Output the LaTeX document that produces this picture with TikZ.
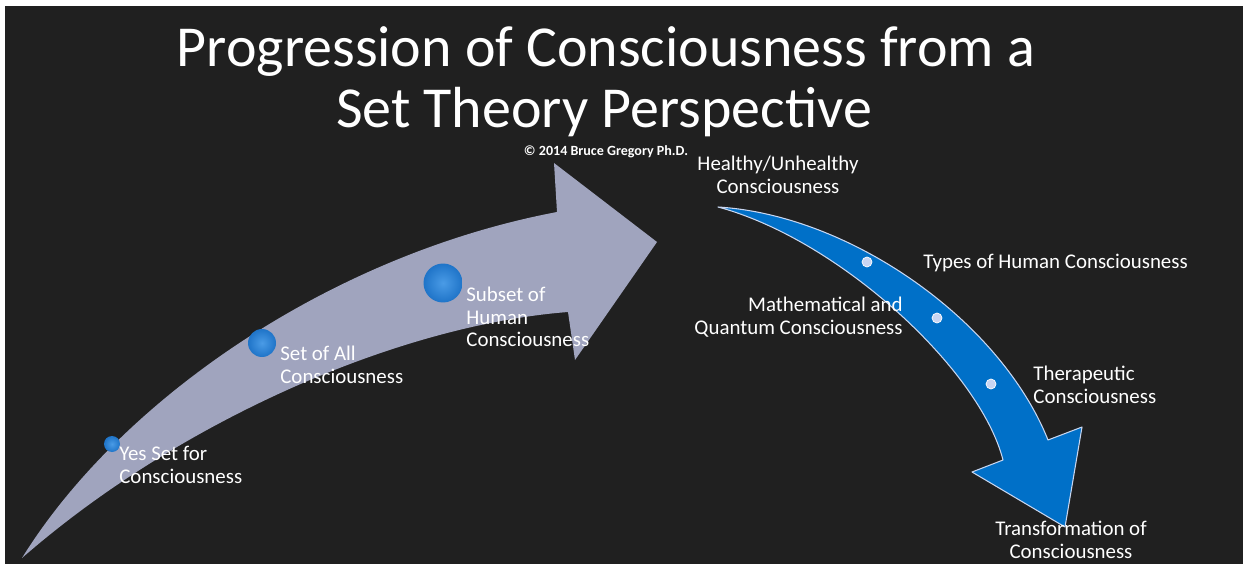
\documentclass[tikz,border=0pt]{standalone}
\usepackage{fontspec}
\setmainfont{Carlito}
\usetikzlibrary{positioning}
\definecolor{slide}{HTML}{202020}
\definecolor{lilac}{HTML}{A0A4BE}
\definecolor{bluefill}{HTML}{0070C8}
\definecolor{bluerim}{HTML}{C8D6F0}
\definecolor{pipfill}{HTML}{C9D5F2}
\definecolor{orbin}{HTML}{4A9BE6}
\definecolor{orbout}{HTML}{1F74C8}

\begin{document}
\begin{tikzpicture}[x=0.02cm, y=-0.02cm,
  ttl/.style={text=white, font=\fontsize{33}{35}\selectfont, inner sep=0pt},
  lbl/.style={text=white, font=\fontsize{11.9}{12.8}\selectfont, inner sep=0pt, align=left},
  orbnode/.style={circle, inner sep=0pt, shading=radial, inner color=orbin, outer color=orbout},
  pip/.style={circle, inner sep=0pt, minimum size=0.2cm, fill=pipfill, draw=white, line width=0.4pt},
  grayarr/.style={fill=lilac},
  bluearr/.style={fill=bluefill, draw=bluerim, line width=0.6pt, line join=round}
]
  \useasboundingbox (0,0) rectangle (1243,564);
  \clip (0,0) rectangle (1243,564);
  \fill[white] (0,0) rectangle (1243,564);
  \fill[slide] (5,6) rectangle (1243,564);

  % title
  \node[ttl, anchor=base] (title1) at (606,67) {Progression of Consciousness from a};
  \node[ttl, anchor=base] (title2) at (604,128) {Set Theory Perspective};
  \node[text=white, font=\fontsize{8}{9}\selectfont\bfseries, inner sep=0pt, anchor=base] (copy) at (606,156) {\textcopyright{}  2014 Bruce Gregory Ph.D.};

  % rising gray arrow
  \path[grayarr] (22,558) .. controls (120,400) and (330,255) .. (557,212)
    -- (554,163) -- (657,242) -- (575,360) -- (568,312)
    .. controls (400,325) and (180,420) .. (22,558) -- cycle;

  \node[orbnode, minimum size=0.32cm] (yes) at (112,444) {};
  \node[orbnode, minimum size=0.56cm] (all) at (262,343) {};
  \node[orbnode, minimum size=0.78cm] (subset) at (443,283) {};

  \node[lbl, anchor=north west] (yeslbl) at (119,446) {Yes Set for\\Consciousness};
  \node[lbl, anchor=north west] (alllbl) at (280,346) {Set of All\\Consciousness};
  \node[lbl, anchor=north west] (subsetlbl) at (466,287) {Subset of\\Human\\Consciousness};

  % falling blue arrow
  \path[bluearr] (718,207) .. controls (850,215) and (1000,320) .. (1048,440)
    -- (1082,427) -- (1065,527) -- (972,472) -- (1003,460)
    .. controls (980,370) and (840,240) .. (718,207) -- cycle;

  \node[pip] (p1) at (867,262) {};
  \node[pip] (p2) at (937,318) {};
  \node[pip] (p3) at (991,384) {};

  \node[lbl, anchor=north, align=center] (health) at (778,156) {Healthy/Unhealthy\\Consciousness};
  \node[lbl, anchor=north west] (types) at (923,254) {Types of Human Consciousness};
  \node[lbl, anchor=north east, align=right] (math) at (903,297) {Mathematical and\\Quantum Consciousness};
  \node[lbl, anchor=north west] (thera) at (1033,366) {Therapeutic\\Consciousness};
  \node[lbl, anchor=north, align=center] (transf) at (1071,521) {Transformation of\\Consciousness};
\end{tikzpicture}
\end{document}
